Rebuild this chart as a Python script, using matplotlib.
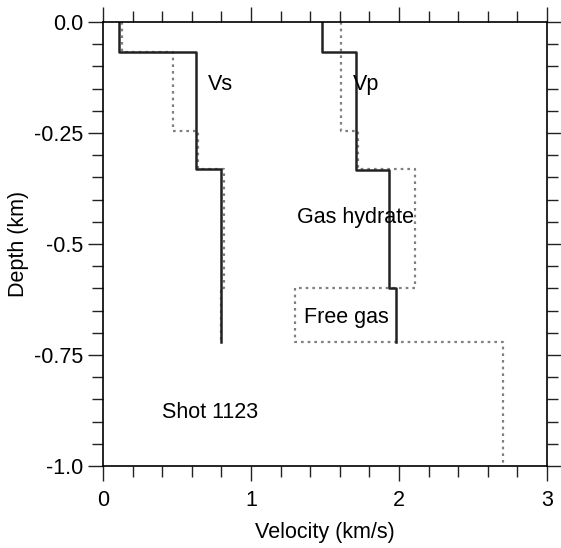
import matplotlib
matplotlib.use("Agg")
import matplotlib.pyplot as plt
import numpy as np
from matplotlib.ticker import MultipleLocator

plt.rcParams['font.family'] = ['Liberation Sans', 'DejaVu Sans']

# layer boundaries (km, negative depth) and velocities (km/s)
vs_depth = [0.0, -0.068, -0.33, -0.72]
vs_vel = [0.11, 0.63, 0.80]
vs2_depth = [0.0, -0.068, -0.245, -0.33, -0.60, -0.72]
vs2_vel = [0.13, 0.47, 0.64, 0.82, 0.80]

vp_depth = [0.0, -0.068, -0.333, -0.60, -0.72]
vp_vel = [1.48, 1.71, 1.93, 1.98]
vp2_depth = [0.0, -0.245, -0.33, -0.60, -0.72, -1.0]
vp2_vel = [1.61, 1.72, 2.11, 1.30, 2.70]

labels = ["Vs", "Vp", "Gas hydrate", "Free gas", "Shot 1123"]
label_x = [0.71, 1.69, 1.31, 1.36, 0.40]
label_y = [-0.14, -0.14, -0.44, -0.665, -0.88]


def steps(depth, vel):
    x = np.repeat(vel, 2)
    y = np.column_stack([depth[:-1], depth[1:]]).ravel()
    return x, y


fig = plt.figure(figsize=(5.61, 5.48), dpi=100)
ax = fig.add_axes([0.1836, 0.1496, 0.7914, 0.8103])

x, y = steps(vs2_depth, vs2_vel)
ax.plot(x, y, color='#808080', lw=1.6, ls=(0, (1.2, 1.8)))
x, y = steps(vp2_depth, vp2_vel)
ax.plot(x, y, color='#808080', lw=1.6, ls=(0, (1.2, 1.8)))
x, y = steps(vs_depth, vs_vel)
ax.plot(x, y, color='#222222', lw=1.8)
x, y = steps(vp_depth, vp_vel)
ax.plot(x, y, color='#222222', lw=1.8)

for t, tx, ty in zip(labels, label_x, label_y):
    ax.text(tx, ty, t, fontsize=15.5, va='center', ha='left')

ax.set_xlim(0, 3)
ax.set_ylim(-1.0, 0.0)
ax.set_xticks([0, 1, 2, 3])
ax.set_xticklabels(['0', '1', '2', '3'])
ax.set_yticks([0, -0.25, -0.5, -0.75, -1.0])
ax.set_yticklabels(['0.0', '-0.25', '-0.5', '-0.75', '-1.0'])
ax.xaxis.set_minor_locator(MultipleLocator(0.2))
ax.yaxis.set_minor_locator(MultipleLocator(0.05))
ax.tick_params(which='both', direction='out', top=True, right=True,
               labelsize=15.5, width=1, color='#222222')
ax.tick_params(which='major', length=11)
ax.tick_params(which='minor', length=8)
ax.tick_params(axis='x', pad=6)
ax.tick_params(axis='y', pad=3)
for s in ax.spines.values():
    s.set_linewidth(1.2)

ax.set_xlabel('Velocity (km/s)', fontsize=15.5, labelpad=8)
ax.set_ylabel('Depth (km)', fontsize=15.5, labelpad=4)

fig.savefig('out.png', dpi=100)
